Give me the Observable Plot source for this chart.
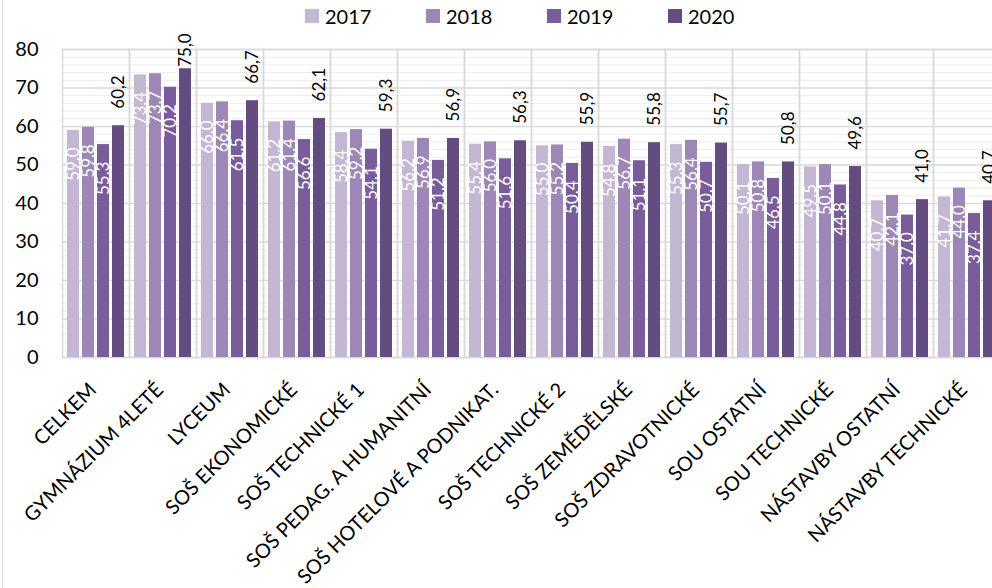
<!DOCTYPE html>
<html>
<head>
<meta charset="utf-8">
<script src="https://cdn.jsdelivr.net/npm/d3@7"></script>
<script src="https://cdn.jsdelivr.net/npm/@observablehq/plot@0.6"></script>
<style>
  html, body { margin: 0; padding: 0; background: #fff; overflow: hidden; width: 992px; height: 588px; }
  #wrap { position: relative; width: 992px; height: 588px; overflow: hidden; font-family: Lato, "Noto Sans", sans-serif; }
  #border { position: absolute; left: 2px; top: 0; width: 0; height: 588px; border-left: 1px solid #d9d9d9; }
  #legend { height: 32px; display: flex; align-items: center; padding-left: 305px; box-sizing: border-box; }
  .item { width: 121px; display: flex; align-items: center; font-size: 20px; color: #000; }
  .sw { width: 14px; height: 14px; margin-right: 6px; }
  #chart { width: 1010px; }
  #chart svg { display: block; overflow: visible; max-width: none; }
</style>
</head>
<body>
<div id="wrap">
  <div id="border"></div>
  <div id="legend"></div>
  <div id="chart"></div>
</div>
<script>
const categories = ["CELKEM","GYMNÁZIUM 4LETÉ","LYCEUM","SOŠ EKONOMICKÉ","SOŠ TECHNICKÉ 1","SOŠ PEDAG. A HUMANITNÍ","SOŠ HOTELOVÉ A PODNIKAT.","SOŠ TECHNICKÉ 2","SOŠ ZEMĚDĚLSKÉ","SOŠ ZDRAVOTNICKÉ","SOU OSTATNÍ","SOU TECHNICKÉ","NÁSTAVBY OSTATNÍ","NÁSTAVBY TECHNICKÉ"];
const years = ["2017","2018","2019","2020"];
const v2017 = [59.0,73.4,66.0,61.2,58.4,56.2,55.4,55.0,54.8,55.3,50.1,49.5,40.7,41.7];
const v2018 = [59.8,73.7,66.4,61.4,59.2,56.9,56.0,55.2,56.7,56.4,50.8,50.1,42.1,44.0];
const v2019 = [55.3,70.2,61.5,56.6,54.1,51.2,51.6,50.4,51.1,50.7,46.5,44.8,37.0,37.4];
const v2020 = [60.2,75.0,66.7,62.1,59.3,56.9,56.3,55.9,55.8,55.7,50.8,49.6,41.0,40.7];
const yTicks = [0,10,20,30,40,50,60,70,80];
const minorTicks = d3.range(0, 81, 2).filter(v => v % 10 !== 0);
const colors = ["#c3b7d3","#9d87b6","#785d9a","#634c80"];

const series = [v2017, v2018, v2019, v2020];
const rows = [];
categories.forEach((c, i) => years.forEach((y, j) => rows.push({cat: c, year: y, value: series[j][i]})));
const fmt = v => d3.format(".1f")(v).replace(".", ",");
const last = rows.filter(d => d.year === "2020");

// legend
const legend = document.getElementById("legend");
years.forEach((y, j) => {
  const it = document.createElement("div");
  it.className = "item";
  it.innerHTML = `<span class="sw" style="background:${colors[j]}"></span><span>${y}</span>`;
  legend.appendChild(it);
});

const outside = {fx: "cat", x: "year", y: "value", text: d => fmt(d.value),
  rotate: -90, textAnchor: "start", fill: "#000", fontSize: 17};

const chart = Plot.plot({
  width: 1010,
  height: 556,
  marginLeft: 58,
  marginRight: 7,
  marginTop: 17,
  marginBottom: 231,
  style: {fontFamily: "Lato, 'Noto Sans', sans-serif", overflow: "visible", maxWidth: "none"},
  fx: {domain: categories, padding: 0, axis: null},
  x: {domain: years, paddingInner: 0.18, paddingOuter: 0.3, axis: null},
  y: {domain: [0, 80], axis: null},
  color: {domain: years, range: colors},
  marks: [
    Plot.ruleY(minorTicks, {stroke: "#ededed", strokeWidth: 1}),
    Plot.ruleY(yTicks, {stroke: "#d9d9d9", strokeWidth: 1.5}),
    Plot.frame({stroke: "#d9d9d9", strokeWidth: 1.5}),
    Plot.barY(rows, {fx: "cat", x: "year", y: "value", fill: "year"}),
    Plot.text(rows.filter(d => d.year !== "2020"), {
      fx: "cat", x: "year", y: "value", text: d => fmt(d.value),
      rotate: -90, textAnchor: "end", dy: 17, fill: "#fff", fontSize: 17
    }),
    // labels that fit above the bar sit 17px above it; the tallest one is pulled down to stay in the chart
    Plot.text(last.filter(d => d.value < 72), {...outside, dy: -17}),
    Plot.text(last.filter(d => d.value >= 72), {...outside, dy: -2}),
    Plot.text(categories, {
      fx: d => d, y: 0, text: d => d, rotate: -45, textAnchor: "end",
      dx: -3, dy: 29, fill: "#000", fontSize: 20
    }),
    Plot.axisY({ticks: yTicks, tickSize: 0, tickPadding: 24, fontSize: 20, label: null, fill: "#000"})
  ]
});
document.getElementById("chart").appendChild(chart);
</script>
</body>
</html>
